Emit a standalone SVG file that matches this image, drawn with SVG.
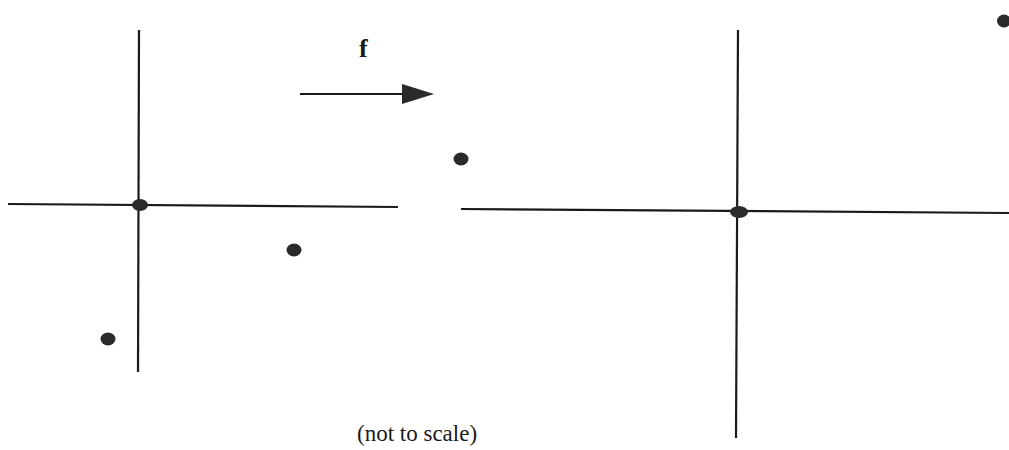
<svg xmlns="http://www.w3.org/2000/svg" width="1009" height="450" viewBox="0 0 1009 450">
<style>
.ax{stroke:#1a1a1a;stroke-width:2.2;fill:none}
.dot{fill:#2a2a2a}
.t{font-family:"Liberation Serif",serif;fill:#1a1a1a}
</style>
<defs>
<marker id="ah" markerWidth="32" markerHeight="22" refX="2" refY="11" orient="auto" markerUnits="userSpaceOnUse">
<path d="M0,1 L32,11 L0,21 Z" fill="#2a2a2a"/>
</marker>
</defs>
<rect width="1009" height="450" fill="#fff"/>
<g id="connectors">
<line class="ax" x1="8" y1="204" x2="398" y2="207"/>
<line class="ax" x1="139" y1="30" x2="138" y2="372"/>
<line class="ax" x1="461" y1="209" x2="1009" y2="213"/>
<line class="ax" x1="738" y1="30" x2="736" y2="438"/>
<line class="ax" x1="300" y1="94" x2="404" y2="94" marker-end="url(#ah)"/>
</g>
<g id="origin-left"><ellipse class="dot" cx="140" cy="205" rx="8" ry="6"/></g>
<g id="point-a"><ellipse class="dot" cx="294" cy="250" rx="7.5" ry="6.5"/></g>
<g id="point-b"><ellipse class="dot" cx="108" cy="339" rx="7.5" ry="6.5"/></g>
<g id="point-c"><ellipse class="dot" cx="461" cy="159" rx="7.5" ry="6.5"/></g>
<g id="origin-right"><ellipse class="dot" cx="739" cy="212" rx="9" ry="6"/></g>
<g id="point-d"><ellipse class="dot" cx="1004" cy="21" rx="7" ry="6.5"/></g>
<g id="label-f"><text class="t" x="359" y="57" font-size="26" font-weight="bold">f</text></g>
<g id="caption"><text class="t" x="357" y="441" font-size="23">(not to scale)</text></g>
</svg>
